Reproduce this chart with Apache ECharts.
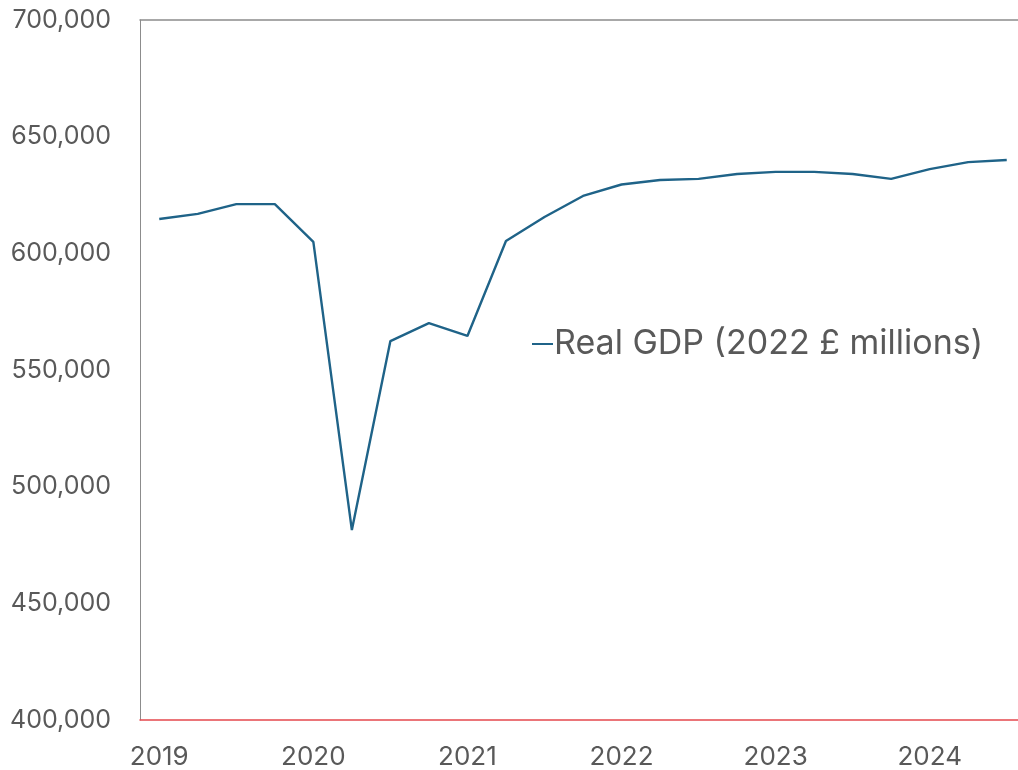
<!DOCTYPE html>
<html>
<head>
<meta charset="utf-8">
<title>Real GDP</title>
<script src="https://cdn.jsdelivr.net/npm/echarts@6/dist/echarts.min.js"></script>
<style>
  html, body { margin: 0; padding: 0; background: #ffffff; overflow: hidden; }
  /* the plot runs slightly past the right edge of the window */
  #chart { width: 1030px; height: 770px; }
</style>
</head>
<body>
<div id="chart"></div>
<script>
// Quarterly periods, 2019 Q1 to 2024 Q3
const quarters = [
  '2019 Q1', '2019 Q2', '2019 Q3', '2019 Q4',
  '2020 Q1', '2020 Q2', '2020 Q3', '2020 Q4',
  '2021 Q1', '2021 Q2', '2021 Q3', '2021 Q4',
  '2022 Q1', '2022 Q2', '2022 Q3', '2022 Q4',
  '2023 Q1', '2023 Q2', '2023 Q3', '2023 Q4',
  '2024 Q1', '2024 Q2', '2024 Q3'
];

// Real GDP, 2022 £ millions
const realGdp = [
  614700, 616900, 621100, 621100,
  604900, 481400, 562400, 570100,
  564600, 605300, 615600, 624600,
  629500, 631400, 631900, 634000,
  634900, 634900, 634000, 631900,
  636100, 639100, 640000
];

const seriesName = 'Real GDP (2022 £ millions)';
const yMin = 400000;
const yMax = 700000;
const yStep = 50000;

const textColor = '#595959';
const fontFamily = 'Inter, "Liberation Sans", Arial, sans-serif';

const chart = echarts.init(document.getElementById('chart'), null, { renderer: 'canvas' });

chart.setOption({
  backgroundColor: '#ffffff',
  animation: false,
  textStyle: { fontFamily: fontFamily },
  grid: { left: 140, top: 20, width: 886, height: 700, containLabel: false },
  legend: {
    data: [seriesName],
    left: 527,
    top: 322,
    icon: 'rect',
    itemWidth: 21,
    itemHeight: 2,
    textStyle: {
      fontSize: 34,
      color: textColor,
      fontFamily: fontFamily,
      padding: [0, 0, 0, -4]
    }
  },
  xAxis: [
    {
      type: 'category',
      data: quarters,
      boundaryGap: true,
      position: 'bottom',
      axisLine: { show: true, lineStyle: { color: '#e5484d', width: 1.5 } },
      axisTick: { show: false },
      axisLabel: {
        interval: 3,
        formatter: (v) => v.slice(0, 4),
        color: textColor,
        fontSize: 26,
        margin: 24,
        fontFamily: fontFamily
      },
      splitLine: { show: false }
    },
    {
      type: 'category',
      data: quarters,
      position: 'top',
      axisLine: { show: true, lineStyle: { color: '#8c8c8c', width: 1.5 } },
      axisTick: { show: false },
      axisLabel: { show: false },
      splitLine: { show: false }
    }
  ],
  yAxis: {
    type: 'value',
    min: yMin,
    max: yMax,
    interval: yStep,
    axisLine: { show: true, lineStyle: { color: '#8c8c8c', width: 1 } },
    axisTick: { show: false },
    splitLine: { show: false },
    axisLabel: {
      color: textColor,
      fontSize: 25,
      margin: 29,
      fontFamily: fontFamily,
      formatter: (v) => v.toLocaleString('en-GB')
    }
  },
  series: [
    {
      name: seriesName,
      type: 'line',
      xAxisIndex: 0,
      data: realGdp,
      symbol: 'none',
      smooth: false,
      lineStyle: { color: '#1f6388', width: 2.4 },
      itemStyle: { color: '#1f6388' }
    }
  ]
});
</script>
</body>
</html>
